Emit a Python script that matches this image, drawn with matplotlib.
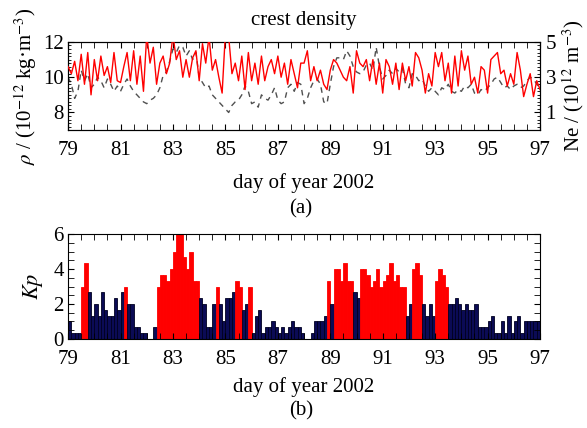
import matplotlib
matplotlib.use("Agg")
import matplotlib.pyplot as plt
import numpy as np
from matplotlib.ticker import MultipleLocator

plt.rcParams['font.family'] = ['Liberation Serif', 'DejaVu Serif']
plt.rcParams['mathtext.fontset'] = 'stix'

# crest density (10^-12 kg m^-3), sampled every 3 h from day 79.0 to 97.0
rho = [10.6, 10.2, 10.9, 9.8, 11.3, 9.6, 11.4, 9.0,
       11.0, 9.8, 11.2, 10.1, 10.6, 9.7, 11.4, 9.8,
       9.7, 10.6, 11.4, 9.8, 11.5, 9.6, 11.2, 9.2,
       12.4, 10.8, 11.7, 9.6, 10.8, 11.2, 10.2, 10.8,
       12.4, 11.0, 11.5, 10.0, 11.0, 10.0, 11.1, 11.5,
       9.8, 11.9, 10.8, 12.3, 10.4, 11.0, 10.0, 9.1,
       12.5, 12.3, 10.2, 10.8, 9.8, 11.2, 9.3, 11.4,
       9.8, 10.8, 9.6, 11.2, 9.8, 10.6, 11.0, 10.2,
       11.2, 10.0, 10.8, 9.6, 11.0, 10.2, 9.4, 10.8,
       10.8, 11.5, 9.8, 10.6, 9.8, 10.4, 9.6, 9.3,
       10.4, 11.0, 10.8, 10.4, 10.0, 9.8, 10.6, 9.1,
       11.5, 10.8, 10.6, 11.0, 9.8, 11.0, 9.6, 10.8,
       9.1, 11.0, 10.6, 9.6, 10.8, 9.3, 10.8, 9.8,
       10.6, 9.5, 11.4, 11.1, 10.4, 9.1, 10.2, 9.5,
       11.4, 10.6, 11.4, 9.8, 10.8, 9.1, 11.2, 9.5,
       11.5, 10.4, 11.2, 9.6, 10.0, 9.1, 10.6, 10.4,
       9.1, 11.0, 11.2, 11.4, 10.2, 10.4, 9.5, 10.2,
       9.6, 11.4, 10.4, 8.9, 9.6, 10.2, 8.9, 9.8,
       9.3]

# electron density (10^12 m^-3), same sampling
ne = [3.0, 2.6, 1.8, 2.2, 3.4, 2.8, 3.2, 2.4,
      2.6, 3.0, 2.8, 2.4, 2.9, 2.6, 2.2, 2.5,
      2.2, 2.6, 2.9, 2.5, 2.2, 2.0, 1.8, 1.6,
      1.5, 1.7, 1.8, 2.0, 2.4, 3.1, 3.3, 3.9,
      4.6, 4.4, 4.8, 4.7, 4.2, 4.5, 4.0, 4.4,
      3.0, 2.7, 2.4, 2.5, 2.0, 1.8, 1.6, 1.4,
      1.2, 1.0, 1.4, 1.6, 1.7, 2.0, 2.5, 2.2,
      1.5, 1.6, 1.3, 2.0, 1.8, 1.7, 2.0, 2.4,
      1.7, 1.5, 1.6, 2.4, 2.6, 2.2, 2.7, 2.6,
      1.5, 1.8, 2.4, 2.8, 2.9, 2.6, 1.6, 1.5,
      2.6, 3.6, 4.1, 4.1, 4.0, 4.5, 4.2, 3.6,
      3.3, 3.2, 3.3, 3.7, 3.8, 3.4, 4.7, 3.6,
      2.9, 3.1, 3.4, 3.2, 3.5, 3.3, 3.5, 2.6,
      2.4, 3.2, 3.1, 2.8, 2.9, 2.5, 2.2, 2.4,
      2.2, 2.0, 2.4, 2.3, 2.6, 2.2, 2.1, 2.3,
      2.2, 2.5, 2.4, 2.6, 2.1, 2.0, 2.3, 2.2,
      2.4, 2.6, 2.9, 3.0, 2.7, 2.4, 2.5, 2.3,
      2.5, 2.6, 2.4, 2.5, 2.8, 3.0, 2.9, 2.6,
      2.4]

# 3-hourly Kp, day 79 to 96 (8 per day)
kp = [1.0, 0.33, 0.33, 0.33, 3.0, 4.33, 2.67, 1.33,
      2.0, 1.33, 2.67, 1.67, 1.33, 1.33, 2.33, 1.67,
      2.67, 3.0, 2.0, 2.0, 0.67, 0.67, 0.33, 0.33,
      0.0, 0.0, 0.67, 3.0, 3.67, 3.67, 3.33, 4.0,
      5.0, 6.0, 6.0, 4.67, 4.0, 5.0, 3.33, 3.33,
      2.33, 2.0, 0.67, 0.67, 2.0, 3.0, 2.0, 1.0,
      2.33, 2.33, 2.67, 3.33, 3.0, 1.67, 2.0, 3.0,
      0.33, 1.33, 1.67, 0.33, 0.67, 0.67, 1.0, 0.67,
      0.33, 0.67, 0.33, 0.67, 1.0, 0.67, 0.67, 0.33,
      0.0, 0.0, 0.33, 1.0, 1.0, 1.0, 1.33, 3.33,
      2.0, 4.0, 4.0, 3.33, 4.33, 3.33, 3.33, 2.67,
      2.33, 4.0, 4.0, 3.67, 3.0, 3.33, 4.0, 3.0,
      3.33, 3.67, 4.33, 3.33, 3.67, 3.0, 3.0, 1.33,
      2.0, 4.0, 4.33, 3.67, 2.0, 1.33, 2.0, 1.33,
      3.33, 4.0, 3.67, 3.0, 2.0, 2.0, 2.33, 2.0,
      1.67, 2.0, 1.67, 1.67, 2.0, 0.67, 0.67, 0.67,
      1.0, 1.33, 0.33, 0.33, 1.0, 0.33, 1.33, 0.33,
      1.0, 1.33, 0.33, 1.0, 1.0, 1.0, 1.0, 1.0]

day_ticks = [79, 81, 83, 85, 87, 89, 91, 93, 95, 97]

day0 = 79
step = 0.125
t_line = day0 + np.arange(len(rho)) * step
t_bar = day0 + np.arange(len(kp)) * step
kp = np.array(kp)

fig = plt.figure(figsize=(5.87, 4.28), dpi=100)

def style_x(ax):
    ax.set_xlim(79, 97)
    ax.set_xticks(day_ticks)
    ax.xaxis.set_minor_locator(MultipleLocator(0.5))
    ax.tick_params(axis='x', which='both', direction='in', top=True,
                   labelsize=15, length=4, pad=8)

# ---- panel (a)
ax1 = fig.add_axes([0.116, 0.696, 0.804, 0.206])
ax1.plot(t_line, rho, color='red', lw=1.0, zorder=3)
ax1.set_ylim(7, 12)
ax1.set_yticks([8, 10, 12])
ax1.yaxis.set_minor_locator(MultipleLocator(0.2))
ax1.tick_params(axis='y', which='both', direction='in', labelsize=15, pad=3)
ax1.tick_params(axis='y', which='major', length=4)
ax1.tick_params(axis='y', which='minor', length=2.5)
style_x(ax1)
ax1.set_ylabel(r"$\rho$ / (10$^{-12}$ kg·m$^{-3}$)", fontsize=15, labelpad=3)
ax1.set_xlabel("day of year 2002", fontsize=15, labelpad=9)
ax1.set_title("crest density", fontsize=15, pad=12)

ax2 = ax1.twinx()
ax2.plot(t_line, ne, color='#505050', lw=1.0, ls=(0, (4, 3.5)), zorder=2)
ax2.set_ylim(0, 5)
ax2.set_yticks([1, 3, 5])
ax2.yaxis.set_minor_locator(MultipleLocator(0.2))
ax2.tick_params(axis='y', which='both', direction='in', labelsize=15, pad=4)
ax2.tick_params(axis='y', which='major', length=4)
ax2.tick_params(axis='y', which='minor', length=2.5)
ax2.set_ylabel(r"Ne / (10$^{12}$ m$^{-3}$)", fontsize=15, labelpad=3)
ax1.set_zorder(ax2.get_zorder() + 1)
ax1.patch.set_visible(False)

# ---- panel (b)
ax3 = fig.add_axes([0.116, 0.208, 0.804, 0.245])
colors = np.where(kp >= 2.9, 'red', '#0b0b55')
edges = np.where(kp >= 2.9, 'red', '#000020')
ax3.bar(t_bar, kp, width=step, align='edge', color=colors, edgecolor=edges, linewidth=0.6)
ax3.set_ylim(0, 6)
ax3.set_yticks([0, 2, 4, 6])
ax3.yaxis.set_minor_locator(MultipleLocator(0.5))
ax3.tick_params(axis='y', which='both', direction='in', right=True,
                labelsize=15, length=4, pad=3)
style_x(ax3)
ax3.set_ylabel(r"$Kp$", fontsize=16, labelpad=6)
ax3.set_xlabel("day of year 2002", fontsize=15, labelpad=6)

fig.text(0.513, 0.513, "(a)", ha='center', va='center', fontsize=15)
fig.text(0.513, 0.04, "(b)", ha='center', va='center', fontsize=15)

fig.savefig("out.png", dpi=100)
